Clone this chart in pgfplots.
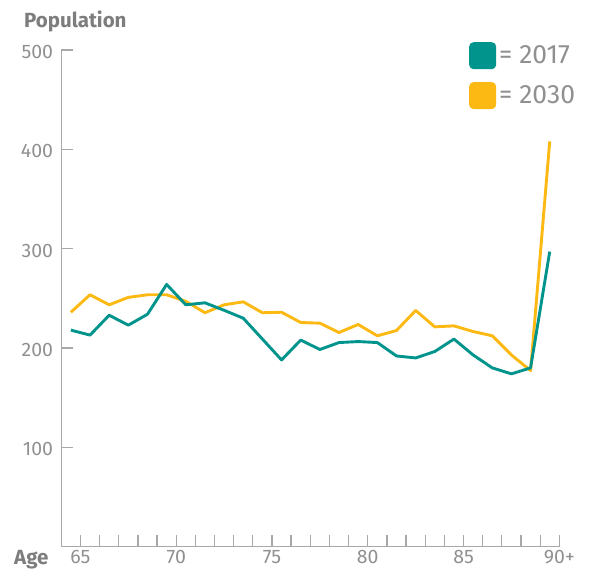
\documentclass[border=0pt]{standalone}
\usepackage{fontspec}
\setmainfont{Fira Sans}
\usepackage{pgfplots}
\pgfplotsset{compat=1.18}
\definecolor{teal17}{HTML}{00948C}
\definecolor{gold30}{HTML}{FDB913}
\definecolor{axgray}{HTML}{A8A8A8}
\definecolor{txtgray}{HTML}{909090}
\definecolor{lblgray}{HTML}{7D7D7D}
\begin{document}
\begin{tikzpicture}
\useasboundingbox (-61.3pt,-22.3pt) rectangle (531.7pt,546.7pt);
\begin{axis}[
  scale only axis, width=498pt, height=496.7pt,
  at={(0pt,0pt)}, anchor=south west,
  xmin=64, xmax=90, ymin=0, ymax=500,
  axis lines*=left,
  axis line style={axgray, line width=1.3pt},
  xtick={65,70,...,90}, xticklabels={65,70,75,80,85,90+},
  minor xtick={66,...,89},
  ytick={100,200,...,500},
  tick align=inside, major tick length=12pt, minor tick length=12pt,
  every tick/.style={axgray, line width=1.3pt},
  major tick style={axgray, line width=1.3pt},
  minor tick style={axgray, line width=1.3pt},
  /pgf/number format/assume math mode=true,
  ticklabel style={font=\fontsize{19.5}{24}\selectfont, text=txtgray, inner sep=0pt},
  xticklabel style={anchor=base, yshift=-17pt},
  yticklabel style={anchor=east, xshift=-8pt, yshift=-2pt},
  legend style={draw=none, fill=none, at={(axis description cs:0.8187,1.016)}, anchor=north west,
    font=\fontsize{26.5}{32}\selectfont, text=txtgray, row sep=13pt, inner sep=0pt,
    nodes={inner sep=3pt}},
  legend cell align=left,
  legend image code/.code={\fill[#1, rounded corners=3pt] (0pt,-12pt) rectangle (24pt,12pt);},
  reverse legend,
  line join=round,
]
\addplot[gold30, line width=2.9pt] coordinates {
(64.5,236) (65.5,253.6) (66.5,243.5) (67.5,251) (68.5,253.6) (69.5,253.6) (70.5,247) (71.5,235.5) (72.5,243.5) (73.5,246.5) (74.5,235.5) (75.5,236) (76.5,225.7) (77.5,225) (78.5,215.6) (79.5,223.7) (80.5,212.3) (81.5,217.6) (82.5,237.8) (83.5,221.3) (84.5,222.3) (85.5,216.6) (86.5,212.3) (87.5,193) (88.5,177.3) (89.5,408)
};
\addlegendentry{= 2030}
\addplot[teal17, line width=2.9pt] coordinates {
(64.5,218) (65.5,213) (66.5,233) (67.5,223) (68.5,234) (69.5,264) (70.5,243.5) (71.5,245.5) (72.5,238) (73.5,230) (74.5,209) (75.5,188) (76.5,208) (77.5,198.5) (78.5,205.5) (79.5,206.5) (80.5,205.5) (81.5,192) (82.5,190) (83.5,196.5) (84.5,209) (85.5,193) (86.5,180) (87.5,174) (88.5,180) (89.5,297)
};
\addlegendentry{= 2017}
\end{axis}
\node[anchor=base west, inner sep=0pt, text=lblgray, font=\fontsize{20.5}{24}\selectfont\bfseries] at (-37.3pt,519.2pt) {Population};
\node[anchor=base west, inner sep=0pt, text=lblgray, font=\fontsize{20.5}{24}\selectfont\bfseries] at (-47.3pt,-17.6pt) {Age};
\end{tikzpicture}
\end{document}
